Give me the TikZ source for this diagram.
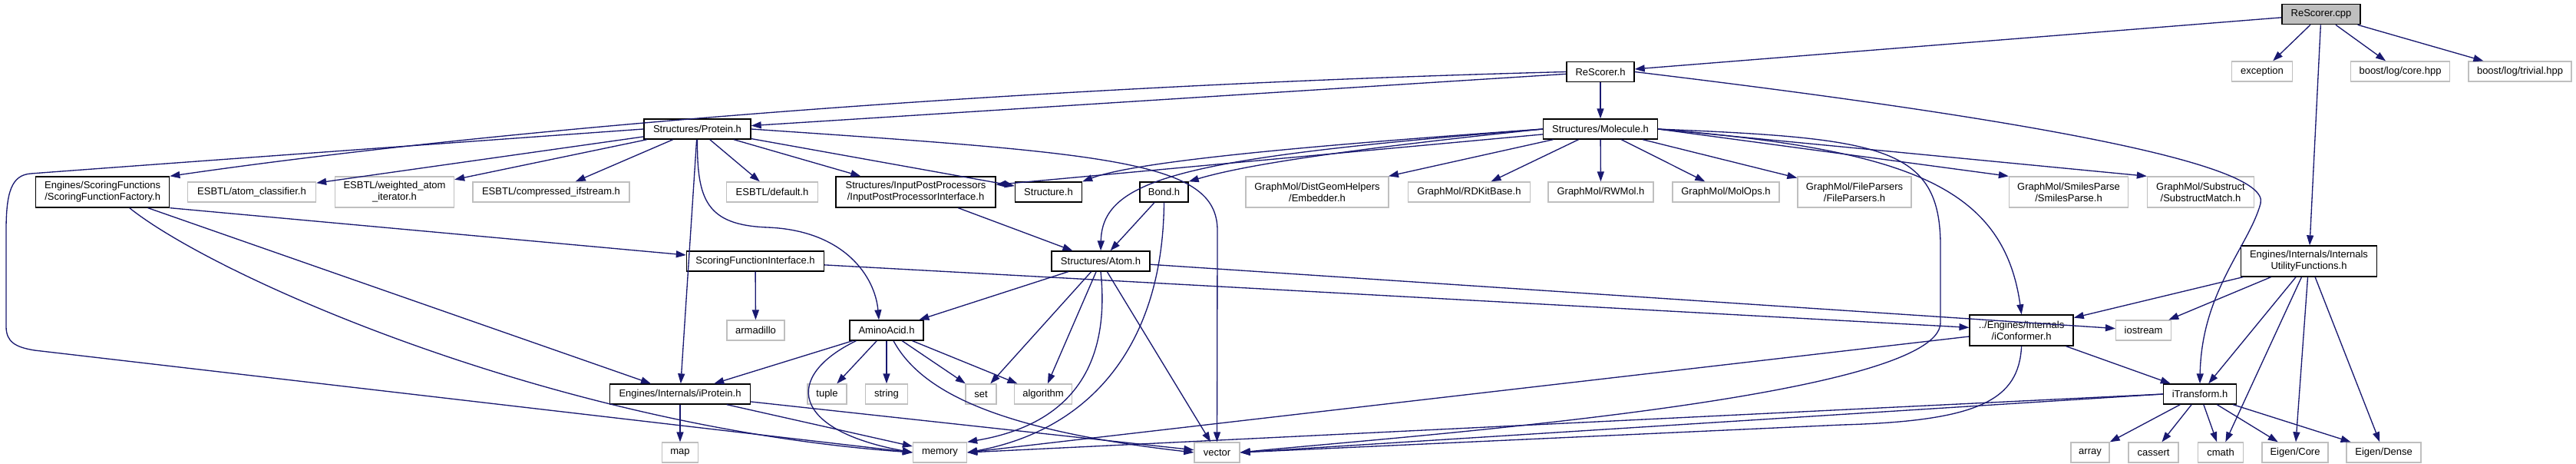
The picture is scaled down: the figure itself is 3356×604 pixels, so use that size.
\documentclass[tikz,border=0pt]{standalone}
\usepackage{fontspec}
\setmainfont{Liberation Sans}
\usepackage{tikz}
\usetikzlibrary{arrows.meta}
\usepackage{xcolor}
\definecolor{grey75}{HTML}{BFBFBF}
\definecolor{navyedge}{HTML}{191970}

\begin{document}
\begin{tikzpicture}[x=1pt,y=-1pt,font=\fontsize{13}{15}\selectfont,>={Triangle[length=13pt,width=9pt]},every node/.style={draw,align=center,fill=white,line width=1.33pt,minimum height=26pt,inner sep=1pt},docbox/.style={draw=black},sysbox/.style={draw=grey75},srcbox/.style={draw=black,fill=grey75},twoline/.style={minimum height=40pt},dep/.style={->,draw=navyedge,line width=1.33pt}]
\useasboundingbox (0,0) rectangle (3356,604);
\node[srcbox,minimum width=102pt](cpp) at (3024,18.7){ReScorer.cpp};
\node[docbox,minimum width=88pt](rsh) at (2085,93.5){ReScorer.h};
\node[sysbox,minimum width=79pt](exc) at (2947,93){exception};
\node[sysbox,minimum width=129pt](core) at (3127,93){boost/log/core.hpp};
\node[sysbox,minimum width=134pt](triv) at (3283,93){boost/log/trivial.hpp};
\node[docbox,minimum width=139pt](prot) at (908.5,168){Structures/Protein.h};
\node[docbox,minimum width=149pt](mol) at (2085,168){Structures/Molecule.h};
\node[docbox,twoline,minimum width=174pt](sff) at (133.7,250){Engines/ScoringFunctions\\/ScoringFunctionFactory.h};
\node[sysbox,minimum width=167pt](ac) at (328,250){ESBTL/atom\_classifier.h};
\node[sysbox,twoline,minimum width=155pt](wi) at (514,250){ESBTL/weighted\_atom\\\_iterator.h};
\node[sysbox,minimum width=204pt](comp) at (718,250){ESBTL/compressed\_ifstream.h};
\node[sysbox,minimum width=119pt](dflt) at (1006,250){ESBTL/default.h};
\node[docbox,twoline,minimum width=208pt](ipp) at (1193,250){Structures/InputPostProcessors\\/InputPostProcessorInterface.h};
\node[docbox,minimum width=87pt](struc) at (1366,250){Structure.h};
\node[docbox,minimum width=63pt](bond) at (1516.5,250){Bond.h};
\node[sysbox,twoline,minimum width=186pt](emb) at (1716,250){GraphMol/DistGeomHelpers\\/Embedder.h};
\node[sysbox,minimum width=159pt](rdk) at (1914,250){GraphMol/RDKitBase.h};
\node[sysbox,minimum width=137pt](rwm) at (2085.5,250){GraphMol/RWMol.h};
\node[sysbox,minimum width=139pt](mops) at (2248.5,250){GraphMol/MolOps.h};
\node[sysbox,twoline,minimum width=148pt](fpar) at (2416,250){GraphMol/FileParsers\\/FileParsers.h};
\node[sysbox,twoline,minimum width=155pt](smi) at (2695,250){GraphMol/SmilesParse\\/SmilesParse.h};
\node[sysbox,twoline,minimum width=139pt](sub) at (2867,250){GraphMol/Substruct\\/SubstructMatch.h};
\node[docbox,minimum width=179pt](sfi) at (984,340){ScoringFunctionInterface.h};
\node[docbox,minimum width=128pt](atom) at (1434,340){Structures/Atom.h};
\node[docbox,twoline,minimum width=177pt](util) at (3008,340){Engines/Internals/Internals\\UtilityFunctions.h};
\node[sysbox,minimum width=75pt](arm) at (984.5,430){armadillo};
\node[docbox,minimum width=96pt](aa) at (1155,430){AminoAcid.h};
\node[docbox,twoline,minimum width=135pt](icf) at (2633.6,430){../Engines/Internals\\/iConformer.h};
\node[sysbox,minimum width=72pt](ios) at (2792.6,430){iostream};
\node[docbox,minimum width=183pt](ipr) at (886,513){Engines/Internals/iProtein.h};
\node[sysbox,minimum width=51pt](tup) at (1077.5,513){tuple};
\node[sysbox,minimum width=55pt](str) at (1155,513){string};
\node[sysbox,minimum width=40pt](set) at (1278,513){set};
\node[sysbox,minimum width=74.5pt](alg) at (1359,513){algorithm};
\node[docbox,minimum width=95pt](itf) at (2866,513){iTransform.h};
\node[sysbox,minimum width=47pt](map) at (886,589){map};
\node[sysbox,minimum width=70pt](mem) at (1224.5,589){memory};
\node[sysbox,minimum width=59pt](vec) at (1585.5,589){vector};
\node[sysbox,minimum width=50pt](arr) at (2723,589){array};
\node[sysbox,minimum width=65pt](cas) at (2805.6,589){cassert};
\node[sysbox,minimum width=59pt](cmath) at (2893,589){cmath};
\node[sysbox,minimum width=86pt](ecore) at (2990,589){Eigen/Core};
\node[sysbox,minimum width=97pt](edense) at (3105.6,589){Eigen/Dense};
\draw[dep](cpp)--(rsh);\draw[dep](cpp)--(exc);\draw[dep](cpp)--(core);\draw[dep](cpp)--(triv);\draw[dep](cpp)--(util);
\draw[dep](rsh)--(prot);\draw[dep](rsh)--(mol);
\draw[dep](rsh.west) .. controls (1400,110) and (700,160) .. (sff.north east);
\draw[dep](rsh.east) .. controls (2600,150) and (2960,210) .. (2945,265) .. controls (2930,320) and (2868,380) .. (itf.north);
\draw[dep](prot)--(ac);\draw[dep](prot)--(wi);\draw[dep](prot)--(comp);\draw[dep](prot)--(dflt);\draw[dep](prot)--(ipp);\draw[dep](prot)--(struc);\draw[dep](prot)--(ipr);
\draw[dep](prot.west) .. controls (600,185) and (200,214) .. (40,226) .. controls (15,228) and (8,250) .. (8,300) -- (8,425) .. controls (8,445) and (20,452) .. (45,456) -- (mem.west);
\draw[dep](prot.east) .. controls (1450,200) and (1586,210) .. (1586,300) -- (vec.north);
\draw[dep](prot.south) .. controls (908,260) and (920,293) .. (1000,296) .. controls (1100,300) and (1140,360) .. ([xshift=-10pt]aa.north);
\draw[dep](mol)--(emb);\draw[dep](mol)--(rdk);\draw[dep](mol)--(rwm);\draw[dep](mol)--(mops);\draw[dep](mol)--(fpar);
\draw[dep](mol.east)--(smi.north west);\draw[dep](mol.east)--(sub.north west);\draw[dep](mol)--(ipp);
\draw[dep](mol.west) .. controls (1700,190) and (1480,210) .. (struc.north east);
\draw[dep](mol.west) .. controls (1550,205) and (1436,230) .. (atom.north);
\draw[dep](mol.west) .. controls (1750,195) and (1620,215) .. (bond.north east);
\draw[dep](mol.east) .. controls (2450,180) and (2528,190) .. (2528,320) -- (2528,420) .. controls (2528,520) and (1800,570) .. (vec.east);
\draw[dep](mol.east) .. controls (2480,195) and (2610,240) .. (icf.north);
\draw[dep](bond)--(atom);\draw[dep](bond.south) .. controls (1515,450) and (1420,560) .. (mem.east);
\draw[dep](ipp)--(atom);
\draw[dep](atom)--(aa);\draw[dep](atom)--(set);\draw[dep](atom)--(alg);\draw[dep](atom)--(vec);\draw[dep](atom)--(ios);
\draw[dep](atom.south) .. controls (1445,460) and (1410,550) .. (mem.north east);
\draw[dep](aa)--(ipr);\draw[dep](aa)--(tup);\draw[dep](aa)--(str);\draw[dep](aa)--(set);\draw[dep](aa)--(alg);
\draw[dep]([xshift=9pt]aa.south west) .. controls (1020,490) and (1030,560) .. (mem.west);
\draw[dep]([xshift=9pt]aa.south) .. controls (1200,510) and (1300,560) .. (vec.west);
\draw[dep](sff)--([xshift=-38pt]ipr.north);\draw[dep](sff.south east)--([yshift=8pt]sfi.west);
\draw[dep]([xshift=35pt]sff.south) .. controls (280,360) and (720,555) .. (mem.west);
\draw[dep](ipr)--(map);\draw[dep](ipr)--(mem);\draw[dep](ipr)--(vec);
\draw[dep](sfi)--(arm);\draw[dep](sfi)--(icf);
\draw[dep](icf)--(itf);\draw[dep]([yshift=-8pt]icf.west)--(mem.east);
\draw[dep](icf.south) .. controls (2630,520) and (2580,548) .. (2400,553) -- (vec.east);
\draw[dep](itf.west)--(mem.east);\draw[dep](itf.west)--(vec.east);
\draw[dep](itf)--(arr);\draw[dep](itf)--(cas);\draw[dep](itf)--(cmath);\draw[dep](itf)--(ecore);\draw[dep](itf)--(edense);
\draw[dep](util)--(icf);\draw[dep](util)--(ios);\draw[dep](util)--(itf);\draw[dep](util)--(cmath);\draw[dep](util)--(ecore);\draw[dep](util)--(edense);
\end{tikzpicture}
\end{document}
